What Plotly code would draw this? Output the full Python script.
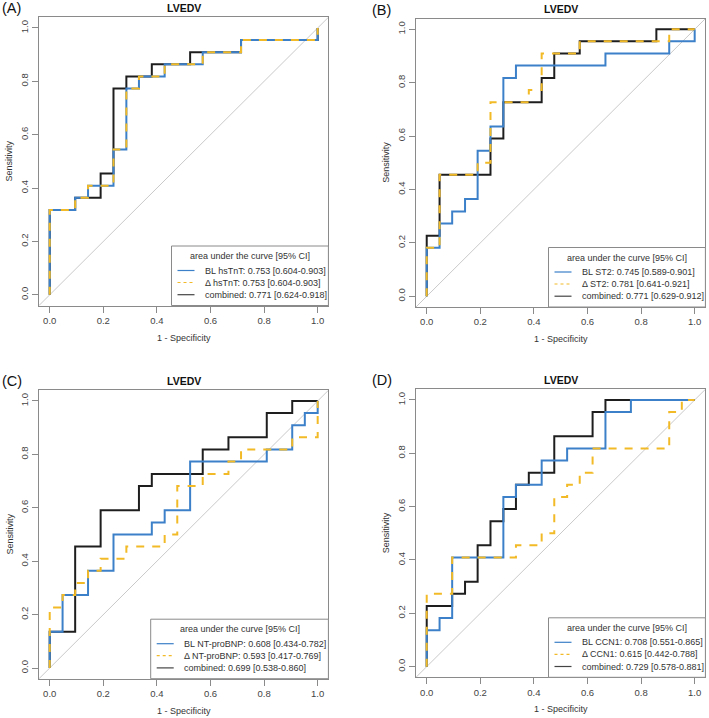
import plotly.graph_objects as go

# ---------------- data (ROC points: 1 - specificity, sensitivity) ----------------
A_bl_fpr = [0, 0, 0.095, 0.143, 0.238, 0.286, 0.333, 0.429, 0.571, 0.714, 1.0]
A_bl_tpr = [0, 0.318, 0.364, 0.409, 0.545, 0.773, 0.818, 0.864, 0.909, 0.955, 1.0]
A_delta_fpr = [0, 0, 0.095, 0.143, 0.238, 0.286, 0.333, 0.429, 0.571, 0.714, 1.0]
A_delta_tpr = [0, 0.318, 0.364, 0.409, 0.545, 0.773, 0.818, 0.864, 0.909, 0.955, 1.0]
A_comb_fpr = [0, 0, 0.095, 0.190, 0.238, 0.286, 0.381, 0.524, 0.714, 1.0]
A_comb_tpr = [0, 0.318, 0.364, 0.455, 0.773, 0.818, 0.864, 0.909, 0.955, 1.0]

B_bl_fpr = [0, 0, 0.048, 0.095, 0.143, 0.190, 0.238, 0.286, 0.333, 0.667, 0.905, 1.0]
B_bl_tpr = [0, 0.182, 0.273, 0.318, 0.364, 0.545, 0.636, 0.818, 0.864, 0.909, 0.955, 1.0]
B_delta_fpr = [0, 0, 0.048, 0.190, 0.238, 0.381, 0.429, 0.571, 0.905, 1.0]
B_delta_tpr = [0, 0.182, 0.455, 0.5, 0.727, 0.773, 0.909, 0.955, 1.0, 1.0]
B_comb_fpr = [0, 0, 0.048, 0.238, 0.286, 0.429, 0.476, 0.571, 0.857, 1.0]
B_comb_tpr = [0, 0.227, 0.455, 0.591, 0.727, 0.818, 0.909, 0.955, 1.0, 1.0]

C_bl_fpr = [0, 0, 0.048, 0.143, 0.238, 0.381, 0.429, 0.524, 0.810, 0.905, 0.952, 1.0]
C_bl_tpr = [0, 0.136, 0.273, 0.364, 0.5, 0.545, 0.591, 0.773, 0.818, 0.909, 0.955, 1.0]
C_delta_fpr = [0, 0, 0.048, 0.095, 0.143, 0.190, 0.286, 0.429, 0.476, 0.571, 0.667, 0.714, 0.905, 1.0]
C_delta_tpr = [0, 0.227, 0.273, 0.318, 0.364, 0.409, 0.455, 0.5, 0.682, 0.727, 0.773, 0.818, 0.864, 1.0]
C_comb_fpr = [0, 0, 0.095, 0.190, 0.333, 0.381, 0.571, 0.667, 0.810, 0.905, 1.0]
C_comb_tpr = [0, 0.136, 0.455, 0.591, 0.682, 0.727, 0.818, 0.864, 0.955, 1.0, 1.0]

D_bl_fpr = [0, 0, 0.048, 0.095, 0.286, 0.333, 0.429, 0.524, 0.667, 0.762, 1.0]
D_bl_tpr = [0, 0.136, 0.182, 0.409, 0.636, 0.682, 0.773, 0.818, 0.955, 1.0, 1.0]
D_delta_fpr = [0, 0, 0.095, 0.333, 0.429, 0.476, 0.524, 0.571, 0.619, 0.905, 0.952, 1.0]
D_delta_tpr = [0, 0.273, 0.409, 0.455, 0.5, 0.636, 0.682, 0.727, 0.818, 0.955, 1.0, 1.0]
D_comb_fpr = [0, 0, 0.095, 0.143, 0.190, 0.238, 0.286, 0.333, 0.381, 0.476, 0.619, 0.667, 1.0]
D_comb_tpr = [0, 0.227, 0.273, 0.318, 0.455, 0.545, 0.591, 0.682, 0.727, 0.864, 0.955, 1.0, 1.0]

panel_labels = ["(A)", "(B)", "(C)", "(D)"]
panel_titles = ["LVEDV", "LVEDV", "LVEDV", "LVEDV"]
markers = ["hsTnT", "ST2", "NT-proBNP", "CCN1"]
auc_bl = [0.753, 0.745, 0.608, 0.708]
ci_bl = [(0.604, 0.903), (0.589, 0.901), (0.434, 0.782), (0.551, 0.865)]
auc_delta = [0.753, 0.781, 0.593, 0.615]
ci_delta = [(0.604, 0.903), (0.641, 0.921), (0.417, 0.769), (0.442, 0.788)]
auc_comb = [0.771, 0.771, 0.699, 0.729]
ci_comb = [(0.624, 0.918), (0.629, 0.912), (0.538, 0.860), (0.578, 0.881)]
legend_title = "area under the curve [95% CI]"
x_title = "1 - Specificity"
y_title = "Sensitivity"
tick_vals = [0, 0.2, 0.4, 0.6, 0.8, 1.0]

curves = [
    ((A_bl_fpr, A_bl_tpr), (A_delta_fpr, A_delta_tpr), (A_comb_fpr, A_comb_tpr)),
    ((B_bl_fpr, B_bl_tpr), (B_delta_fpr, B_delta_tpr), (B_comb_fpr, B_comb_tpr)),
    ((C_bl_fpr, C_bl_tpr), (C_delta_fpr, C_delta_tpr), (C_comb_fpr, C_comb_tpr)),
    ((D_bl_fpr, D_bl_tpr), (D_delta_fpr, D_delta_tpr), (D_comb_fpr, D_comb_tpr)),
]

# ---------------- styling / layout ----------------
W, H = 709, 718
FONT = "Liberation Sans, Arial, sans-serif"
BLUE = "#3B80C8"
YELLOW = "#F2BA26"
BLACK = "#1E1E1E"
BOXC = "#8A8A8A"
DIAG = "#C9C9C9"
TXT = "#333333"

# plot boxes in pixels: left, right, top, bottom
boxes = [
    (39.0, 328.4, 17.3, 305.5),
    (416.0, 705.4, 18.6, 307.0),
    (39.0, 328.4, 390.3, 678.7),
    (416.0, 705.4, 389.3, 677.3),
]
legend_left_off = [132.5, 132.5, 111.7, 132.5]

def px(xp):
    return xp / W

def py(yp):
    return 1 - yp / H

fig = go.Figure()
shapes = []
annotations = []

for i in range(4):
    n = i + 1
    xa = "x" if n == 1 else f"x{n}"
    ya = "y" if n == 1 else f"y{n}"
    L, R, T, B = boxes[i]
    (bl, de, co) = curves[i]

    # diagonal reference
    fig.add_trace(go.Scatter(x=[-0.04, 1.04], y=[-0.04, 1.04], mode="lines",
                             line=dict(color=DIAG, width=1), xaxis=xa, yaxis=ya,
                             showlegend=False, hoverinfo="skip"))
    fig.add_trace(go.Scatter(x=co[0], y=co[1], mode="lines", line_shape="hv",
                             line=dict(color=BLACK, width=2), xaxis=xa, yaxis=ya,
                             name="combined", showlegend=False))
    fig.add_trace(go.Scatter(x=bl[0], y=bl[1], mode="lines", line_shape="hv",
                             line=dict(color=BLUE, width=2), xaxis=xa, yaxis=ya,
                             name="BL " + markers[i], showlegend=False))
    fig.add_trace(go.Scatter(x=de[0], y=de[1], mode="lines", line_shape="hv",
                             line=dict(color=YELLOW, width=2, dash="8px,8px"), xaxis=xa, yaxis=ya,
                             name="\u0394 " + markers[i], showlegend=False))

    axis_common = dict(range=[-0.04, 1.04], showgrid=False, zeroline=False,
                       showline=True, mirror=True, linecolor=BOXC, linewidth=1,
                       ticks="outside", ticklen=6, tickwidth=1, tickcolor=BOXC,
                       tickvals=tick_vals, tickformat=".1f",
                       tickfont=dict(family=FONT, size=9.5, color="#444444"),
                       automargin=False, fixedrange=True)
    fig.update_layout(**{
        ("xaxis" if n == 1 else f"xaxis{n}"): dict(axis_common, domain=[px(L), px(R)], anchor=ya),
        ("yaxis" if n == 1 else f"yaxis{n}"): dict(axis_common, domain=[py(B), py(T)], anchor=xa,
                                                   tickangle=-90),
    })

    cx = (L + R) / 2
    cy = (T + B) / 2
    # title, panel label, axis titles
    annotations.append(dict(text="<b>" + panel_titles[i] + "</b>", x=px(cx), y=py(T - 9.5),
                            xref="paper", yref="paper", showarrow=False, xanchor="center",
                            yanchor="middle", font=dict(family=FONT, size=10.5, color="#111111")))
    annotations.append(dict(text=panel_labels[i], x=px(0 if i % 2 == 0 else 370), y=py(T - 9),
                            xref="paper", yref="paper", showarrow=False, xanchor="left",
                            yanchor="middle", font=dict(family=FONT, size=14.5, color="#111111")))
    annotations.append(dict(text=x_title, x=px(cx), y=py(B + 32), xref="paper", yref="paper",
                            showarrow=False, xanchor="center", yanchor="middle",
                            font=dict(family=FONT, size=9, color=TXT)))
    annotations.append(dict(text=y_title, x=px(L - 30), y=py(cy), xref="paper", yref="paper",
                            showarrow=False, xanchor="center", yanchor="middle", textangle=-90,
                            font=dict(family=FONT, size=9, color=TXT)))

    # legend box (R-style, bottom right inside plot)
    LL = L + legend_left_off[i]
    LT = B - 59.5
    shapes.append(dict(type="rect", xref="paper", yref="paper", x0=px(LL), x1=px(R),
                       y0=py(B), y1=py(LT), line=dict(color=BOXC, width=1),
                       fillcolor="white", layer="above"))
    annotations.append(dict(text=legend_title, x=px((LL + R) / 2), y=py(B - 49.5),
                            xref="paper", yref="paper", showarrow=False, xanchor="center",
                            yanchor="middle", font=dict(family=FONT, size=9, color=TXT)))
    items = [
        ("BL %s: %.3f [%.3f-%.3f]" % (markers[i], auc_bl[i], ci_bl[i][0], ci_bl[i][1]), BLUE, "solid"),
        ("\u0394 %s: %.3f [%.3f-%.3f]" % (markers[i], auc_delta[i], ci_delta[i][0], ci_delta[i][1]), YELLOW, "3px,3px"),
        ("combined: %.3f [%.3f-%.3f]" % (auc_comb[i], ci_comb[i][0], ci_comb[i][1]), "#444444", "solid"),
    ]
    for k, (txt, col, dash) in enumerate(items):
        yy = B - [35.0, 23.0, 10.8][k]
        shapes.append(dict(type="line", xref="paper", yref="paper", x0=px(LL + 6), x1=px(LL + 23),
                           y0=py(yy), y1=py(yy), line=dict(color=col, width=1.2, dash=dash),
                           layer="above"))
        annotations.append(dict(text=txt, x=px(LL + 31), y=py(yy), xref="paper", yref="paper",
                                showarrow=False, xanchor="left", yanchor="middle",
                                font=dict(family=FONT, size=9, color=TXT)))

fig.update_layout(width=W, height=H, margin=dict(l=0, r=0, t=0, b=0),
                  paper_bgcolor="white", plot_bgcolor="white",
                  font=dict(family=FONT, color=TXT), showlegend=False,
                  shapes=shapes, annotations=annotations)

fig.write_html("out.html", config={"displayModeBar": False},
               post_script="document.body.style.margin='0';document.body.style.overflow='hidden';")
